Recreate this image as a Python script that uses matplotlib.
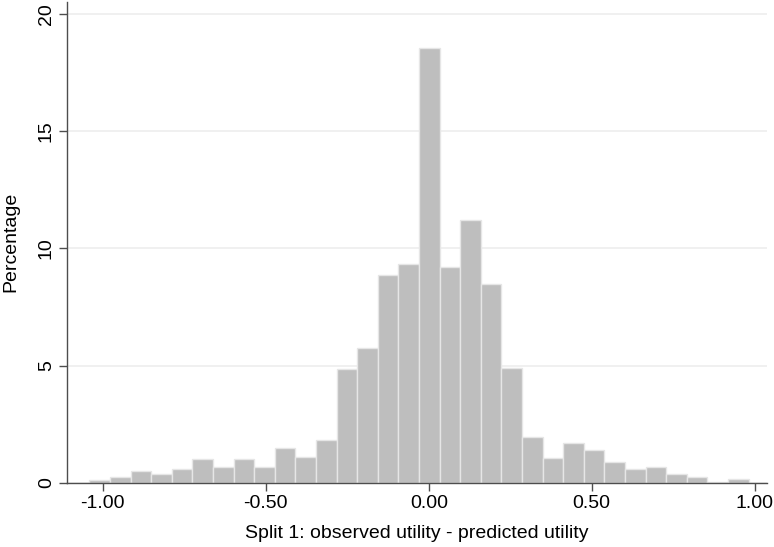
import matplotlib
matplotlib.use('Agg')
import matplotlib.pyplot as plt
import numpy as np

plt.rcParams['font.family'] = ['Liberation Sans', 'DejaVu Sans']

# Histogram of residuals: 32 bins from -1.041 to 0.982
bin_start = -1.041
bin_width = 0.0632
percent = [0.11, 0.26, 0.50, 0.37, 0.57, 1.01, 0.65, 1.01, 0.65, 1.47, 1.11, 1.81,
           4.85, 5.76, 8.85, 9.32, 18.53, 9.19, 11.19, 8.46, 4.91,
           1.96, 1.05, 1.68, 1.39, 0.90, 0.60, 0.65, 0.37, 0.26, 0.04, 0.16]
xticks = [-1.0, -0.5, 0.0, 0.5, 1.0]
xticklabels = ["-1.00", "-0.50", "0.00", "0.50", "1.00"]
yticks = [0, 5, 10, 15, 20]

edges = bin_start + bin_width * np.arange(len(percent))

fig = plt.figure(figsize=(7.74, 5.47), dpi=100)
ax = fig.add_axes([0.087, 0.1175, 0.904, 0.8795])

ax.bar(edges, percent, width=bin_width, align='edge',
       color='#bebebe', edgecolor='#e6e6e6', linewidth=1.0, zorder=2)

ax.set_xlim(-1.109, 1.038)
ax.set_ylim(0, 20.52)
ax.set_yticks(yticks)
ax.set_yticklabels([str(v) for v in yticks], rotation=90, va='center')
ax.set_xticks(xticks)
ax.set_xticklabels(xticklabels)
ax.yaxis.grid(True, color='#eeeeee', linewidth=1.2, zorder=0)
ax.set_axisbelow(True)

for side in ['top', 'right']:
    ax.spines[side].set_visible(False)
for side in ['left', 'bottom']:
    ax.spines[side].set_color('#4d4d4d')
    ax.spines[side].set_linewidth(1.0)

ax.tick_params(axis='both', direction='out', length=6, width=1.0,
               color='#4d4d4d', labelsize=14, pad=3)

ax.set_xlabel("Split 1: observed utility - predicted utility", fontsize=14, labelpad=9)
ax.set_ylabel("Percentage", fontsize=14, labelpad=13)

fig.savefig('out.png', dpi=100)
